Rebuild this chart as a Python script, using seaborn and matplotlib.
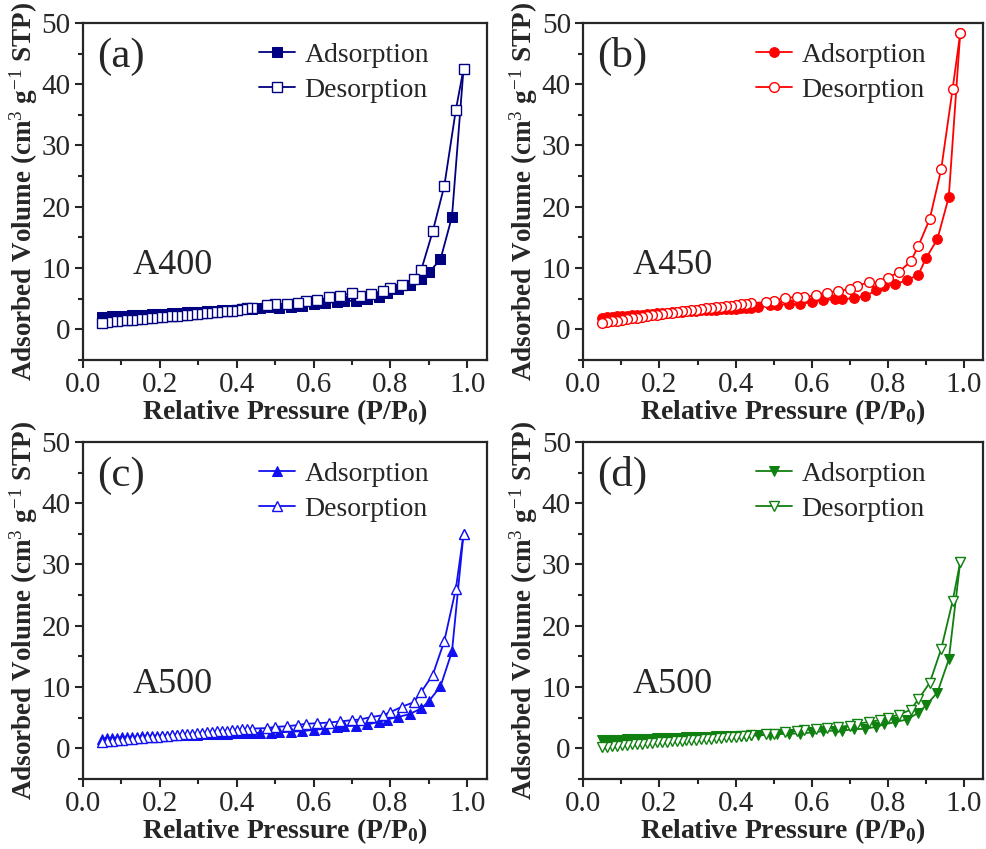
import numpy as np
import pandas as pd
import matplotlib
matplotlib.use("Agg")
import matplotlib.pyplot as plt
import seaborn as sns
from matplotlib.ticker import MultipleLocator

# relative pressure grid (shared by all samples)
p_low = [0.050, 0.063, 0.076, 0.089, 0.102, 0.115, 0.128, 0.141, 0.154, 0.167,
         0.180, 0.193, 0.206, 0.219, 0.232, 0.245, 0.258, 0.271, 0.284, 0.297,
         0.310, 0.323, 0.336, 0.349, 0.362, 0.375, 0.388, 0.401, 0.414, 0.427, 0.440]
p_ads_high = [0.46, 0.49, 0.51, 0.54, 0.57, 0.60, 0.63, 0.66, 0.68, 0.71,
              0.74, 0.77, 0.79, 0.82, 0.85, 0.88, 0.90, 0.93, 0.96, 0.99]
p_des_high = [0.99, 0.97, 0.94, 0.91, 0.88, 0.86, 0.83, 0.80, 0.78, 0.75,
              0.72, 0.70, 0.67, 0.64, 0.61, 0.58, 0.56, 0.53, 0.50, 0.48]

# A400
a_ads_low = [2.0, 2.05, 2.1, 2.12, 2.18, 2.22, 2.28, 2.3, 2.36, 2.4, 2.45, 2.5, 2.55, 2.58, 2.62, 2.68,
             2.72, 2.78, 2.8, 2.86, 2.9, 2.95, 3.0, 3.02, 3.08, 3.1, 3.15, 3.2, 3.25, 3.3, 3.35]
a_ads_high = [3.5, 3.6, 3.5, 3.7, 3.8, 4.1, 4.3, 4.5, 4.6, 4.7, 4.9, 5.2, 6.0, 6.6, 7.2, 8.2, 9.3, 11.4, 18.4, 42.5]
a_des_high = [42.5, 35.8, 23.4, 16.0, 9.7, 8.2, 7.2, 6.8, 6.3, 5.8, 5.5, 5.9, 5.5, 5.2, 4.8, 4.6, 4.3, 4.1, 4.1, 3.9]
a_des_low = [1.1, 1.2, 1.3, 1.38, 1.45, 1.52, 1.6, 1.66, 1.75, 1.8, 1.88, 1.95, 2.02, 2.1, 2.18, 2.25,
             2.32, 2.4, 2.48, 2.55, 2.62, 2.7, 2.8, 2.9, 3.0, 2.95, 3.05, 3.2, 3.35, 3.45, 3.5]

# A450
b_ads_low = [1.9, 1.98, 2.05, 2.1, 2.18, 2.25, 2.3, 2.38, 2.42, 2.5, 2.55, 2.6, 2.66, 2.72, 2.78, 2.82,
             2.88, 2.92, 2.98, 3.02, 3.08, 3.12, 3.16, 3.2, 3.25, 3.28, 3.32, 3.36, 3.4, 3.45, 3.5]
b_ads_high = [3.7, 3.9, 4.0, 4.1, 4.1, 4.5, 4.8, 4.9, 4.9, 5.1, 5.4, 6.4, 7.0, 7.4, 8.0, 8.9, 11.6, 14.7, 21.6, 48.3]
b_des_high = [48.3, 39.2, 26.1, 18.0, 13.6, 11.1, 9.4, 8.4, 7.6, 7.7, 7.1, 6.6, 6.2, 6.0, 5.6, 5.2, 5.3, 5.1, 4.7, 4.4]
b_des_low = [1.0, 1.15, 1.3, 1.42, 1.55, 1.68, 1.8, 1.92, 2.05, 2.15, 2.28, 2.4, 2.5, 2.62, 2.72, 2.82,
             2.92, 3.02, 3.12, 3.2, 3.3, 3.4, 3.5, 3.58, 3.68, 3.78, 3.88, 3.98, 4.08, 4.2, 4.3]

# A500 (c)
c_ads_low = [1.6, 1.65, 1.7, 1.73, 1.78, 1.82, 1.86, 1.9, 1.93, 1.97, 2.0, 2.03, 2.06, 2.09, 2.12, 2.15,
             2.18, 2.2, 2.23, 2.25, 2.28, 2.3, 2.33, 2.35, 2.37, 2.4, 2.42, 2.44, 2.46, 2.48, 2.5]
c_ads_high = [2.5, 2.5, 2.6, 2.7, 2.8, 3.0, 3.2, 3.4, 3.6, 3.7, 3.9, 4.3, 4.7, 5.1, 5.6, 6.5, 7.7, 10.1, 15.8, 35.0]
c_des_high = [35.0, 26.0, 17.5, 12.0, 9.2, 7.5, 6.8, 5.9, 5.4, 5.1, 4.7, 4.6, 4.4, 4.2, 4.1, 4.0, 3.8, 3.6, 3.5, 3.3]
c_des_low = [1.1, 1.18, 1.25, 1.33, 1.4, 1.48, 1.55, 1.62, 1.7, 1.77, 1.84, 1.92, 1.99, 2.06, 2.13, 2.2,
             2.27, 2.34, 2.41, 2.48, 2.55, 2.62, 2.69, 2.76, 2.83, 2.9, 2.97, 3.04, 3.1, 3.16, 3.22]

# A500 (d)
d_ads_low = [1.3, 1.33, 1.36, 1.4, 1.42, 1.45, 1.48, 1.5, 1.53, 1.56, 1.58, 1.61, 1.64, 1.66, 1.69, 1.72,
             1.74, 1.77, 1.8, 1.82, 1.85, 1.88, 1.9, 1.93, 1.96, 1.98, 2.0, 2.02, 2.05, 2.07, 2.1]
d_ads_high = [2.1, 2.2, 2.3, 2.4, 2.4, 2.6, 2.8, 2.9, 2.9, 3.1, 3.2, 3.5, 3.9, 4.3, 4.7, 5.8, 7.0, 9.1, 14.5, 30.4]
d_des_high = [30.4, 24.0, 16.2, 10.7, 8.0, 6.3, 5.5, 5.0, 4.6, 4.3, 4.0, 3.7, 3.5, 3.3, 3.2, 3.0, 2.8, 2.6, 2.4, 2.3]
d_des_low = [0.2, 0.28, 0.35, 0.43, 0.5, 0.57, 0.64, 0.7, 0.77, 0.83, 0.9, 0.96, 1.02, 1.08, 1.14, 1.2,
             1.26, 1.32, 1.38, 1.43, 1.49, 1.55, 1.6, 1.66, 1.72, 1.77, 1.83, 1.88, 1.94, 2.0, 2.1]

panels = [
    ("(a)", "A400", "#000080", "s", a_ads_low, a_ads_high, a_des_high, a_des_low),
    ("(b)", "A450", "#ff0000", "o", b_ads_low, b_ads_high, b_des_high, b_des_low),
    ("(c)", "A500", "#1010f0", "^", c_ads_low, c_ads_high, c_des_high, c_des_low),
    ("(d)", "A500", "#108010", "v", d_ads_low, d_ads_high, d_des_high, d_des_low),
]

sns.set_style("ticks")
plt.rcParams['font.family'] = ['Liberation Serif', 'DejaVu Serif']
plt.rcParams['mathtext.fontset'] = 'custom'
plt.rcParams['mathtext.rm'] = 'Liberation Serif'
plt.rcParams['mathtext.it'] = 'Liberation Serif'
plt.rcParams['mathtext.bf'] = 'Liberation Serif:bold'

fig = plt.figure(figsize=(9.87, 8.49), dpi=100)
boxes = [[0.084, 0.576, 0.409, 0.397], [0.591, 0.576, 0.405, 0.397],
         [0.084, 0.0825, 0.409, 0.397], [0.591, 0.0825, 0.405, 0.397]]

for (tag, name, col, mk, ads_lo, ads_hi, des_hi, des_lo), box in zip(panels, boxes):
    ax = fig.add_axes(box)
    ads = pd.DataFrame({'P': p_low + p_ads_high, 'V': ads_lo + ads_hi})
    des = pd.DataFrame({'P': p_des_high + p_low[::-1], 'V': des_hi + des_lo[::-1]})
    sns.lineplot(data=ads, x='P', y='V', sort=False, estimator=None, ax=ax, color=col,
                 marker=mk, markersize=7, markerfacecolor=col, markeredgecolor=col,
                 linewidth=1.3, label='Adsorption')
    sns.lineplot(data=des, x='P', y='V', sort=False, estimator=None, ax=ax, color=col,
                 marker=mk, markersize=7, markerfacecolor='white', markeredgecolor=col,
                 markeredgewidth=1.0, linewidth=1.3, label='Desorption')
    ax.set_xlim(0, 1.05)
    ax.set_ylim(-5, 50)
    ax.xaxis.set_major_locator(MultipleLocator(0.2))
    ax.xaxis.set_minor_locator(MultipleLocator(0.1))
    ax.yaxis.set_major_locator(MultipleLocator(10))
    ax.yaxis.set_minor_locator(MultipleLocator(5))
    ax.xaxis.set_major_formatter(plt.FuncFormatter(lambda v, p: "%.1f" % v))
    ax.tick_params(which='major', direction='out', length=6, width=1.5, labelsize=21,
                   top=False, right=False, pad=3)
    ax.tick_params(which='minor', direction='out', length=3.5, width=1.5, top=False, right=False)
    for s in ax.spines.values():
        s.set_linewidth(1.6)
        s.set_visible(True)
    ax.set_xlabel(r"Relative Pressure (P/P$_\mathbf{0}$)", fontsize=20, fontweight='bold', labelpad=-1)
    ax.set_ylabel("Adsorbed Volume (cm$^{3}$ g$^{-1}$ STP)", fontsize=19.5, fontweight='bold', labelpad=1)
    ax.text(0.035, 0.9, tag, transform=ax.transAxes, fontsize=31, va='center', ha='left')
    ax.text(0.124, 0.28, name, transform=ax.transAxes, fontsize=26, va='center', ha='left')
    ax.legend(loc='upper right', frameon=False, fontsize=20, handlelength=1.3,
              handletextpad=0.35, labelspacing=0.35, borderaxespad=0.0, bbox_to_anchor=(0.885, 0.975))

plt.savefig("out.png", dpi=100)
